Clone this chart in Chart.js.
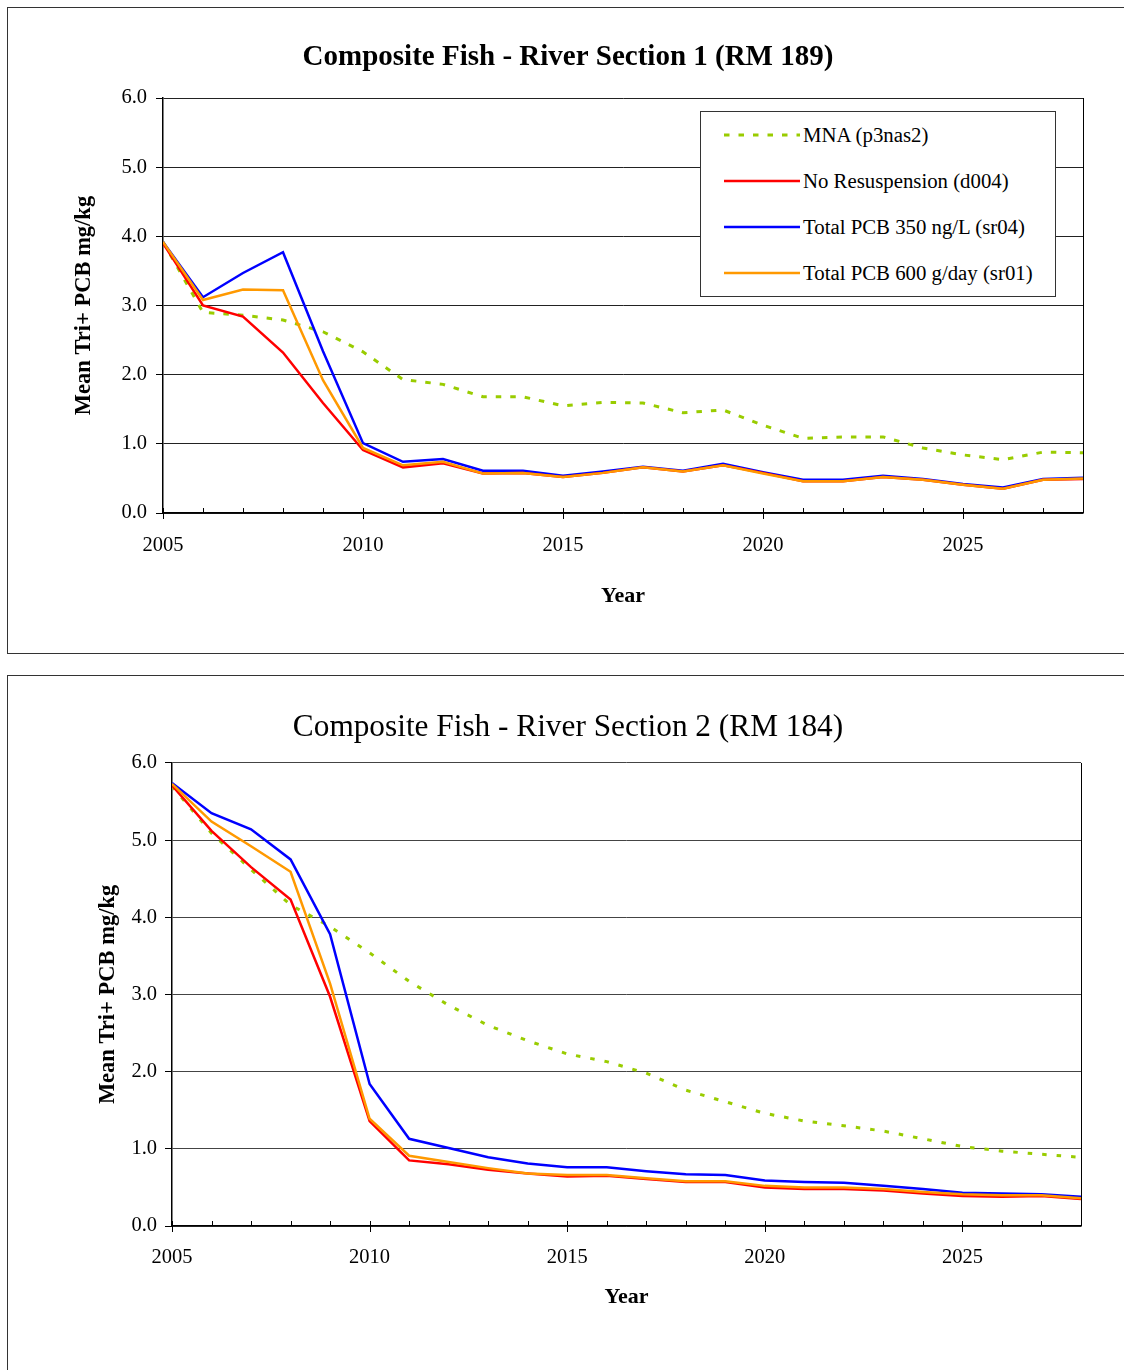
<!DOCTYPE html>
<html><head><meta charset="utf-8">
<script src="https://cdn.jsdelivr.net/npm/chart.js@4.4.1/dist/chart.umd.min.js"></script>
<style>
html,body{margin:0;padding:0;background:#fff;overflow:hidden;width:1124px;height:1370px;}
.box{position:absolute;border:1.5px solid #333;box-sizing:border-box;}
canvas{position:absolute;left:0;}
#legend{position:absolute;left:700px;top:111px;width:356px;height:186px;border:1px solid #333;background:#fff;box-sizing:border-box;font-family:"Liberation Serif","Times New Roman",serif;font-size:20.8px;color:#000;}
.row{position:absolute;left:0;height:24px;line-height:24px;white-space:nowrap;}
.row svg{position:absolute;left:22px;top:0;}
.row span{position:absolute;left:102px;top:0;}
</style></head>
<body>
<div class="box" style="left:7px;top:7px;width:1130px;height:647px"></div>
<div class="box" style="left:7px;top:675px;width:1130px;height:720px"></div>
<canvas id="c1" width="1124" height="660" style="top:0"></canvas>
<canvas id="c2" width="1124" height="710" style="top:660px"></canvas>
<div id="legend"></div>
<script>
// ---------- data ----------
const years = [2005,2006,2007,2008,2009,2010,2011,2012,2013,2014,2015,2016,2017,2018,2019,2020,2021,2022,2023,2024,2025,2026,2027,2028];
const xTickLabels = [2005,2010,2015,2020,2025];
const yTickValues = [0,1,2,3,4,5,6];
const seriesNames = ['MNA (p3nas2)','No Resuspension (d004)','Total PCB 350 ng/L (sr04)','Total PCB 600 g/day (sr01)'];
const seriesColors = ['#99CC00','#FF0000','#0000FF','#FF9900'];
const titles = ['Composite Fish - River Section 1 (RM 189)','Composite Fish - River Section 2 (RM 184)'];
const xTitle = 'Year';
const yTitle = 'Mean Tri+ PCB mg/kg';

// River Section 1 (RM 189)
const mna1     = [3.92,2.90,2.86,2.79,2.62,2.33,1.93,1.86,1.68,1.68,1.55,1.60,1.59,1.45,1.49,1.27,1.08,1.10,1.10,0.94,0.84,0.77,0.88,0.87];
const noRes1   = [3.90,3.00,2.84,2.32,1.59,0.91,0.66,0.72,0.57,0.58,0.52,0.58,0.66,0.60,0.69,0.58,0.46,0.46,0.52,0.48,0.41,0.35,0.48,0.49];
const tpcb350_1= [3.92,3.12,3.47,3.77,2.34,1.01,0.74,0.78,0.61,0.61,0.54,0.60,0.67,0.61,0.71,0.59,0.48,0.48,0.54,0.49,0.42,0.37,0.49,0.51];
const tpcb600_1= [3.92,3.08,3.23,3.22,1.92,0.94,0.69,0.74,0.57,0.58,0.52,0.58,0.66,0.60,0.69,0.57,0.46,0.46,0.52,0.48,0.41,0.35,0.48,0.50];

// River Section 2 (RM 184)
const mna2     = [5.70,5.09,4.62,4.16,3.88,3.54,3.17,2.86,2.60,2.40,2.23,2.13,1.98,1.76,1.61,1.46,1.36,1.30,1.23,1.13,1.03,0.97,0.93,0.89];
const noRes2   = [5.71,5.12,4.65,4.23,2.97,1.36,0.85,0.80,0.73,0.68,0.64,0.65,0.61,0.57,0.57,0.50,0.48,0.48,0.46,0.42,0.39,0.38,0.39,0.35];
const tpcb350_2= [5.74,5.35,5.14,4.75,3.78,1.84,1.13,1.01,0.89,0.81,0.76,0.76,0.71,0.67,0.66,0.59,0.57,0.56,0.52,0.48,0.43,0.42,0.41,0.38];
const tpcb600_2= [5.73,5.24,4.92,4.59,3.14,1.39,0.91,0.83,0.75,0.68,0.66,0.66,0.62,0.58,0.58,0.52,0.50,0.50,0.48,0.44,0.41,0.40,0.40,0.36];

// ---------- drawing ----------
const FONT = '"Liberation Serif","Times New Roman",serif';

const axisDecor = {
  id: 'axisDecor',
  beforeDatasetsDraw(chart) {
    const {ctx, chartArea: a, scales: {x}} = chart;
    ctx.save();
    ctx.strokeStyle = '#000';
    ctx.lineWidth = 1;
    ctx.beginPath();
    ctx.moveTo(Math.round(a.right) + 0.5, a.top);
    ctx.lineTo(Math.round(a.right) + 0.5, a.bottom);
    for (const yr of years) {
      const px = Math.round(x.getPixelForValue(yr)) + 0.5;
      ctx.moveTo(px, a.bottom - 5);
      ctx.lineTo(px, a.bottom + ((yr - 2005) % 5 === 0 ? 6 : 0));
    }
    ctx.stroke();
    ctx.restore();
  }
};

function toPts(arr) { return years.map((yr, i) => ({x: yr, y: arr[i]})); }

function makeChart(id, c) {
  const sets = [c.mna, c.noRes, c.t350, c.t600];
  const orders = [3, 1, 2, 0];
  const datasets = sets.map((arr, i) => ({
    label: seriesNames[i],
    data: toPts(arr),
    borderColor: seriesColors[i],
    backgroundColor: seriesColors[i],
    borderWidth: i === 0 ? 3 : 2.5,
    borderDash: i === 0 ? c.dash : [],
    pointRadius: 0,
    tension: 0,
    fill: false,
    order: orders[i]
  }));
  return new Chart(document.getElementById(id), {
    type: 'line',
    data: {datasets},
    plugins: [axisDecor],
    options: {
      responsive: false,
      animation: false,
      devicePixelRatio: 1,
      layout: {padding: {left: c.padL, right: c.padR, top: 0, bottom: 0}},
      plugins: {
        legend: {display: false},
        tooltip: {enabled: false},
        title: {
          display: true, text: c.title, color: '#000',
          font: {family: FONT, size: c.titleSize, weight: c.titleWeight, lineHeight: 1.2},
          padding: {top: c.titleTop, bottom: c.titleBottom}
        }
      },
      scales: {
        x: {
          type: 'linear', min: 2005, max: 2028,
          afterBuildTicks: s => { s.ticks = xTickLabels.map(v => ({value: v})); },
          afterFit: s => { s.height = c.xH; },
          grid: {display: false, drawTicks: false},
          border: {display: true, color: '#000', width: 1.5},
          ticks: {padding: c.xPad, color: '#000', font: {family: FONT, size: 20.5}, callback: v => String(v), maxRotation: 0, autoSkip: false},
          title: {display: true, text: xTitle, color: '#000', font: {family: FONT, size: 22, weight: 'bold', lineHeight: 1.2}, padding: {top: 0, bottom: c.xTitleBottom}}
        },
        y: {
          min: 0, max: 6,
          afterBuildTicks: s => { s.ticks = yTickValues.map(v => ({value: v})); },
          afterFit: s => { s.width = c.yW; },
          grid: {color: c.gridColor, lineWidth: 1, tickLength: 7, drawTicks: true, tickColor: '#000'},
          border: {display: true, color: '#000', width: 1.5},
          ticks: {padding: c.yPad, color: '#000', font: {family: FONT, size: 20.5}, callback: v => Number(v).toFixed(1)},
          title: {display: true, text: yTitle, color: '#000', font: {family: FONT, size: 22.5, weight: 'bold', lineHeight: 1.2}, padding: {top: c.yTitleTop, bottom: 0}}
        }
      }
    }
  });
}

makeChart('c1', {
  mna: mna1, noRes: noRes1, t350: tpcb350_1, t600: tpcb600_1,
  dash: [5.5, 9],
  title: titles[0], titleSize: 29, titleWeight: 'bold', titleTop: 40.6, titleBottom: 22.6,
  padL: 53, padR: 41, yW: 110, xH: 147, xPad: 20, yPad: 9, xTitleBottom: 50, yTitleTop: 18,
  gridColor: '#222'
});

makeChart('c2', {
  mna: mna2, noRes: noRes2, t350: tpcb350_2, t600: tpcb600_2,
  dash: [4.5, 10],
  title: titles[1], titleSize: 31.3, titleWeight: 'normal', titleTop: 49.2, titleBottom: 16.2,
  padL: 55, padR: 43, yW: 117, xH: 144, xPad: 19, yPad: 8, xTitleBottom: 59, yTitleTop: 40,
  gridColor: '#444'
});

// legend for the first chart (HTML, built from the series arrays)
const leg = document.getElementById('legend');
const rowCenters = [23, 69, 115, 161];
seriesNames.forEach((name, i) => {
  const row = document.createElement('div');
  row.className = 'row';
  row.style.top = (rowCenters[i] - 12) + 'px';
  const dash = i === 0 ? 'stroke-dasharray="5.5 9"' : '';
  const w = i === 0 ? 3 : 2.5;
  row.innerHTML = '<svg width="78" height="24"><line x1="1" y1="12" x2="77" y2="12" stroke="' + seriesColors[i] + '" stroke-width="' + w + '" ' + dash + '/></svg><span>' + name + '</span>';
  leg.appendChild(row);
});
</script>
</body></html>
